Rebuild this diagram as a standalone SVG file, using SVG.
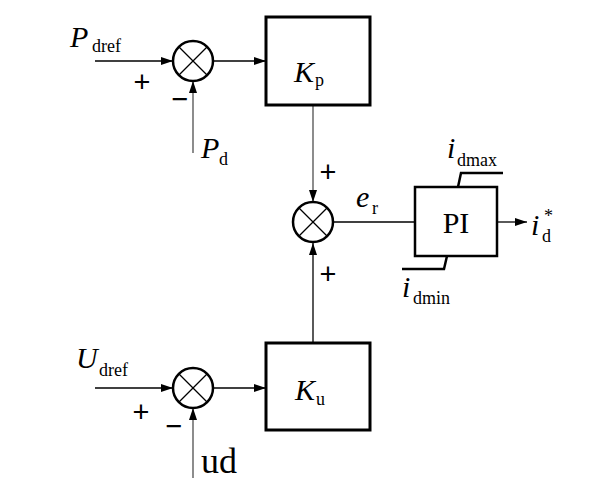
<svg xmlns="http://www.w3.org/2000/svg" width="590" height="486" viewBox="0 0 590 486">
<style>
.blk{fill:#fff;stroke:#000;stroke-width:3}
.sum{fill:#fff;stroke:#000;stroke-width:2.5}
.x{stroke:#000;stroke-width:1.2}
.ln{stroke:#000;stroke-width:1.3;fill:none}
.gr{stroke:#808080;stroke-width:1.8;fill:none}
.it{font-family:"Liberation Serif",serif;font-style:italic;font-size:30px;fill:#000}
.rm{font-family:"Liberation Serif",serif;font-size:30px;fill:#000}
.sb{font-family:"Liberation Serif",serif;font-size:18px;fill:#000}
.sg{font-family:"Liberation Sans",sans-serif;font-size:29px;fill:#000;text-anchor:middle}
</style>
<defs>
<marker id="ah" markerWidth="12" markerHeight="8" refX="12" refY="4" orient="auto" markerUnits="userSpaceOnUse">
<path d="M0,0 L12,4 L0,8 Z" fill="#000"/>
</marker>
</defs>
<g id="connectors">
<line class="ln" x1="95" y1="61" x2="173" y2="61" marker-end="url(#ah)"/>
<line class="ln" x1="213" y1="61" x2="266" y2="61" marker-end="url(#ah)"/>
<line class="gr" x1="193" y1="153" x2="193" y2="81" marker-end="url(#ah)"/>
<line class="gr" x1="313" y1="105" x2="313" y2="202" marker-end="url(#ah)"/>
<line class="ln" x1="313" y1="343" x2="313" y2="243" marker-end="url(#ah)"/>
<line class="ln" x1="333" y1="222" x2="415" y2="222"/>
<line class="ln" x1="497" y1="222" x2="527" y2="222" marker-end="url(#ah)"/>
<line class="ln" x1="95" y1="388" x2="173" y2="388" marker-end="url(#ah)"/>
<line class="ln" x1="213" y1="388" x2="266" y2="388" marker-end="url(#ah)"/>
<line class="gr" x1="193" y1="478" x2="193" y2="408" marker-end="url(#ah)"/>
<polyline fill="none" stroke="#000" stroke-width="2.5" points="458,187 461,173 503,173"/>
<polyline fill="none" stroke="#000" stroke-width="2.5" points="402,269 444,269 447,256"/>
</g>
<g id="sum1">
<circle class="sum" cx="193" cy="61" r="20"/>
<line class="x" x1="179" y1="47" x2="207" y2="75"/>
<line class="x" x1="207" y1="47" x2="179" y2="75"/>
</g>
<g id="sum2">
<circle class="sum" cx="313" cy="222" r="20"/>
<line class="x" x1="299" y1="208" x2="327" y2="236"/>
<line class="x" x1="327" y1="208" x2="299" y2="236"/>
</g>
<g id="sum3">
<circle class="sum" cx="193" cy="388" r="20"/>
<line class="x" x1="179" y1="374" x2="207" y2="402"/>
<line class="x" x1="207" y1="374" x2="179" y2="402"/>
</g>
<g id="Kp">
<rect class="blk" x="266" y="17" width="104" height="88"/>
<text class="it" x="294" y="82">K</text><text class="sb" x="315" y="86">p</text>
</g>
<g id="Ku">
<rect class="blk" x="266" y="343" width="104" height="87"/>
<text class="it" x="295" y="400">K</text><text class="sb" x="316" y="405">u</text>
</g>
<g id="PI">
<rect class="sum" x="415" y="187" width="82" height="69"/>
<text class="rm" x="456" y="233" text-anchor="middle">PI</text>
</g>
<g id="labels">
<text class="it" x="70" y="47">P</text><text class="sb" x="92" y="52">dref</text>
<text class="sg" x="142" y="92">+</text>
<text class="sg" x="180" y="109">−</text>
<text class="it" x="201" y="158">P</text><text class="sb" x="219" y="165">d</text>
<text class="sg" x="328" y="182">+</text>
<text class="sg" x="328" y="284">+</text>
<text class="it" x="356" y="207">e</text><text class="sb" x="372" y="214">r</text>
<text class="it" x="447" y="158">i</text><text class="sb" x="457" y="166">dmax</text>
<text class="it" x="402" y="297">i</text><text class="sb" x="413" y="304">dmin</text>
<text class="it" x="531" y="235">i</text><text class="sb" x="544" y="222">*</text><text class="sb" x="542" y="242">d</text>
<text class="it" x="76" y="368">U</text><text class="sb" x="99" y="376">dref</text>
<text class="sg" x="141" y="422">+</text>
<text class="sg" x="174" y="436">−</text>
<text class="rm" x="201" y="473" style="font-size:36px">ud</text>
</g>
</svg>
